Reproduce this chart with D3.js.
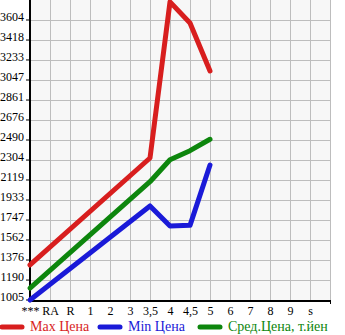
<!DOCTYPE html>
<html>
<head>
<meta charset="utf-8">
<script src="https://cdn.jsdelivr.net/npm/d3@7"></script>
<style>
  body { margin: 0; background: #fff; }
  svg { display: block; }
  svg text { font-family: "Liberation Serif", "DejaVu Serif", serif; }
</style>
</head>
<body>
<svg width="345" height="335"></svg>
<script>
var categories = ["***", "RA", "R", "1", "2", "3", "3,5", "4", "4,5", "5", "6", "7", "8", "9", "s"];
var yTickLabels = ["1005", "1190", "1376", "1562", "1747", "1933", "2119", "2304", "2490", "2676", "2861", "3047", "3233", "3418", "3604"];
var maxPrice = [1330, null, null, null, null, null, 2323, 3772, 3576, 3131, null, null, null, null, null];
var minPrice = [1005, null, null, null, null, null, 1878, 1692, 1698, 2258, null, null, null, null, null];
var avgPrice = [1116, null, null, null, null, null, 2103, 2307, 2391, 2497, null, null, null, null, null];
var seriesNames = ["Max Цена", "Min Цена", "Сред.Цена, т.йен"];
var seriesColors = ["#d81e1e", "#1a1ad8", "#0d860d"];

var svg = d3.select("svg"),
    margin = { top: 0, left: 30, right: 15, bottom: 35 },
    plotW = 300, plotH = 300;

var x = d3.scalePoint()
    .domain(categories)
    .range([margin.left, margin.left + plotW - 20]);

var step = 185.64;
var y = d3.scaleLinear()
    .domain([1005, 1005 + 15 * step])
    .range([margin.top + plotH, margin.top]);

var yTicks = yTickLabels.map(Number);

// plot background
svg.append("rect")
    .attr("x", margin.left)
    .attr("y", margin.top)
    .attr("width", plotW)
    .attr("height", plotH)
    .attr("fill", "#f7f7f7");

// grid
var grid = svg.append("g").attr("stroke", "#bdbdbd").attr("stroke-width", 1);
grid.selectAll("line.h")
    .data(yTicks.slice(1))
    .enter().append("line")
    .attr("x1", margin.left).attr("x2", margin.left + plotW)
    .attr("y1", function (d) { return Math.round(y(d)) + 0.5; })
    .attr("y2", function (d) { return Math.round(y(d)) + 0.5; });
grid.selectAll("line.v")
    .data(categories.slice(1).map(x).concat([margin.left + plotW]))
    .enter().append("line")
    .attr("x1", function (d) { return Math.round(d) + 0.5; })
    .attr("x2", function (d) { return Math.round(d) + 0.5; })
    .attr("y1", margin.top).attr("y2", margin.top + plotH);

// y axis
var yAxis = svg.append("g")
    .attr("transform", "translate(" + margin.left + ",0)")
    .call(d3.axisLeft(y).tickValues(yTicks).tickFormat(function (d, i) { return yTickLabels[i]; }).tickSize(4).tickPadding(2));
yAxis.select(".domain").remove();
yAxis.attr("font-family", null).attr("font-size", 12);
yAxis.selectAll("line").attr("stroke", "#000").attr("y1", -0.5).attr("y2", -0.5);
yAxis.selectAll("text")
    .attr("dy", "0.05em")
    .attr("fill", "#000");
svg.append("line")
    .attr("x1", margin.left).attr("x2", margin.left)
    .attr("y1", margin.top).attr("y2", margin.top + plotH + 1)
    .attr("stroke", "#000").attr("stroke-width", 2);

// x axis
var xAxis = svg.append("g")
    .attr("transform", "translate(0," + (margin.top + plotH) + ")")
    .call(d3.axisBottom(x).tickSize(0).tickPadding(6));
xAxis.select(".domain").remove();
xAxis.attr("font-family", null).attr("font-size", 12);
xAxis.selectAll("text").attr("fill", "#000");
svg.append("line")
    .attr("x1", margin.left).attr("x2", margin.left + plotW + 1)
    .attr("y1", margin.top + plotH + 1).attr("y2", margin.top + plotH + 1)
    .attr("stroke", "#000").attr("stroke-width", 2);
svg.append("line")
    .attr("x1", margin.left + plotW + 0.5).attr("x2", margin.left + plotW + 0.5)
    .attr("y1", margin.top + plotH).attr("y2", margin.top + plotH + 4)
    .attr("stroke", "#000");

// lines
var line = d3.line()
    .x(function (d) { return x(d[0]); })
    .y(function (d) { return y(d[1]); });

[maxPrice, minPrice, avgPrice].forEach(function (vals, si) {
    var pts = categories.map(function (c, i) { return [c, vals[i]]; })
        .filter(function (d) { return d[1] != null; });
    svg.append("path")
        .datum(pts)
        .attr("fill", "none")
        .attr("stroke", seriesColors[si])
        .attr("stroke-width", 5)
        .attr("stroke-linejoin", "round")
        .attr("stroke-linecap", "round")
        .attr("d", line);
});

// legend
var legendX = [2, 100, 200];
var lg = svg.append("g").attr("transform", "translate(0,327)");
seriesNames.forEach(function (name, i) {
    lg.append("line")
        .attr("x1", legendX[i]).attr("x2", legendX[i] + 20)
        .attr("y1", 0).attr("y2", 0)
        .attr("stroke", seriesColors[i])
        .attr("stroke-width", 5)
        .attr("stroke-linecap", "round");
    lg.append("text")
        .attr("x", legendX[i] + 28)
        .attr("y", 4)
        .attr("font-size", 14)
        .attr("fill", seriesColors[i])
        .text(name);
});
</script>
</body>
</html>
